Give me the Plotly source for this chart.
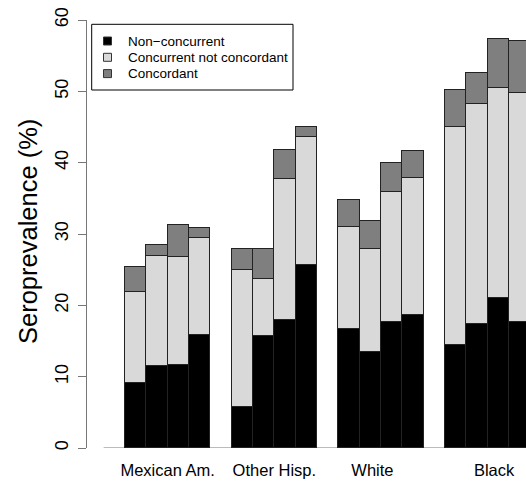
import plotly.graph_objects as go

# Ethnic groups and the four bars within each group
groups = ["Mexican Am.", "Other Hisp.", "White", "Black"]
bars_per_group = 4

# Seroprevalence (%) by component, four bars per group, in group order
non_concurrent = [9.1, 11.5, 11.7, 15.9,
                  5.8, 15.7, 18.0, 25.6,
                  16.7, 13.5, 17.6, 18.6,
                  14.5, 17.4, 21.0, 17.6]
concurrent_not_concordant = [12.7, 15.4, 15.1, 13.6,
                             19.2, 8.0, 19.7, 18.0,
                             14.3, 14.4, 18.3, 19.2,
                             30.5, 30.8, 29.4, 32.2]
concordant = [3.6, 1.5, 4.4, 1.4,
              2.9, 4.2, 4.1, 1.4,
              3.7, 3.9, 4.0, 3.9,
              5.2, 4.4, 7.0, 7.2]

series_names = ["Non\u2212concurrent", "Concurrent not concordant", "Concordant"]
series_values = [non_concurrent, concurrent_not_concordant, concordant]
series_colors = ["#000000", "#d9d9d9", "#7f7f7f"]

y_ticks = [0, 10, 20, 30, 40, 50, 60]
group_label_pos = [3.0, 8.0, 12.6, 18.3]

# Figure geometry (pixels)
W, H = 526, 485
L, R, T, B = 87, 0, 20, 37
unit_px = 21.333  # width of one bar in pixels
first_bar_px = 125.0

def px_to_x(px):
    return 1 + (px - first_bar_px) / unit_px

def paper_x(px):
    return (px - L) / (W - L - R)

def paper_y(py):
    return (H - B - py) / (H - T - B)

# bar centres: one empty slot before each group of four
x_pos = []
for g in range(len(groups)):
    for j in range(bars_per_group):
        x_pos.append(1.5 + g * (bars_per_group + 1) + j)

FONT = "Liberation Sans, Arial, Helvetica, sans-serif"

fig = go.Figure()
for name, vals, col in zip(series_names, series_values, series_colors):
    fig.add_trace(go.Bar(
        x=x_pos, y=vals, width=1.0, name=name,
        marker=dict(color=col, line=dict(color="#222222", width=1)),
        showlegend=False,
    ))

x_lo, x_hi = px_to_x(L), px_to_x(W)

shapes = [
    # baseline under the bars
    dict(type="line", xref="x", yref="y", x0=0, x1=x_hi + 1, y0=0, y1=0,
         line=dict(color="#777777", width=1), layer="below"),
]

# legend box with key squares
annotations = []
shapes.append(dict(type="rect", xref="paper", yref="paper",
                   x0=paper_x(91.7), x1=paper_x(293), y0=paper_y(90), y1=paper_y(24.3),
                   line=dict(color="#000000", width=1), fillcolor="white", layer="above"))
key_rows = [41.0, 57.3, 73.6]
for name, col, cy in zip(series_names, series_colors, key_rows):
    shapes.append(dict(type="rect", xref="paper", yref="paper",
                       x0=paper_x(103.5), x1=paper_x(111.5),
                       y0=paper_y(cy + 4), y1=paper_y(cy - 4),
                       line=dict(color="#333333", width=1), fillcolor=col, layer="above"))
    annotations.append(dict(xref="paper", yref="paper", x=paper_x(126), y=paper_y(cy),
                            text=name, showarrow=False, xanchor="left", yanchor="middle",
                            font=dict(family=FONT, size=13.5, color="#000000")))

# y-axis title
annotations.append(dict(xref="paper", yref="paper", x=paper_x(28), y=paper_y(232),
                        text="Seroprevalence (%)", showarrow=False, textangle=-90,
                        xanchor="center", yanchor="middle",
                        font=dict(family=FONT, size=25.5, color="#000000")))

fig.update_layout(
    width=W, height=H,
    margin=dict(l=L, r=R, t=T, b=B, pad=0),
    barmode="stack",
    bargap=0,
    plot_bgcolor="white", paper_bgcolor="white",
    showlegend=False,
    shapes=shapes,
    annotations=annotations,
    xaxis=dict(range=[x_lo, x_hi], showgrid=False, zeroline=False, showline=False,
               tickvals=group_label_pos, ticktext=groups, ticks="",
               ticklabelstandoff=10,
               tickfont=dict(family=FONT, size=16.5, color="#000000")),
    yaxis=dict(range=[0, 60], showgrid=False, zeroline=False,
               showline=True, linecolor="#777777", linewidth=1,
               ticks="outside", ticklen=8, tickcolor="#777777", tickwidth=1,
               tickvals=y_ticks, tickangle=-90, ticklabelstandoff=3,
               tickfont=dict(family=FONT, size=18, color="#000000")),
)

fig.write_html("out.html")
